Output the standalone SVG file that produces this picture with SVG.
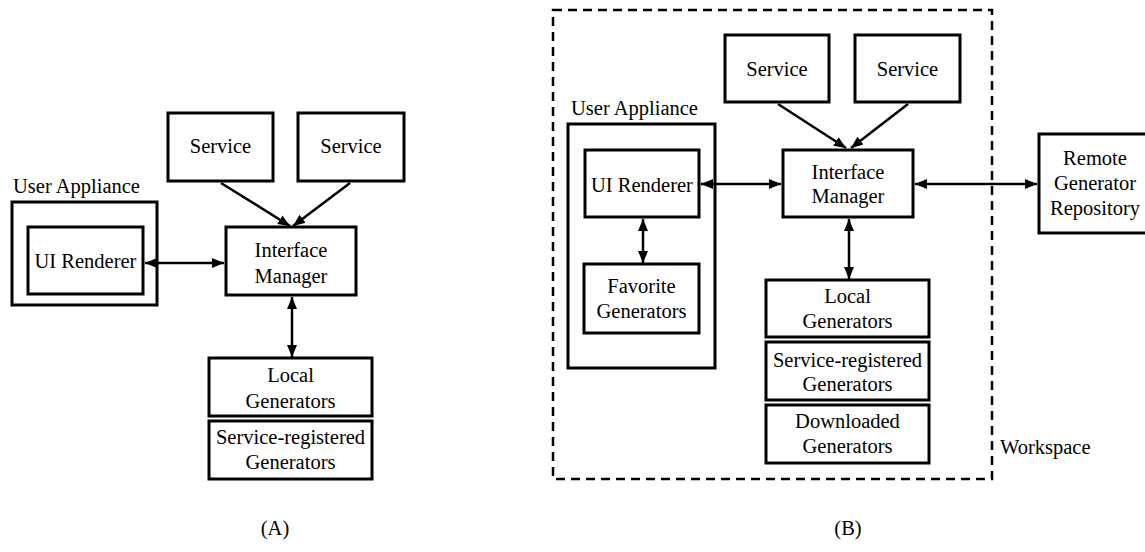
<svg xmlns="http://www.w3.org/2000/svg" width="1145" height="552" viewBox="0 0 1145 552">
<defs>
<style>
text{font-family:"Liberation Serif","DejaVu Serif","Noto Serif",serif;font-size:20.5px;fill:#000}
.c{text-anchor:middle}
.box{fill:#fff;stroke:#000;stroke-width:3}
.ln{stroke:#000;stroke-width:2.5;fill:none}
.dash{fill:none;stroke:#000;stroke-width:2.5;stroke-dasharray:9 6}
</style>
<marker id="ah" viewBox="0 0 12 10" refX="12" refY="5" markerWidth="12" markerHeight="10" markerUnits="userSpaceOnUse" orient="auto-start-reverse">
<path d="M0,0 L12,5 L0,10 z" fill="#000"/>
</marker>
</defs>
<rect width="1145" height="552" fill="#fff"/>
<g font-family="Liberation Serif, DejaVu Serif, serif">
<!-- Panel A -->
<g id="a-service1"><rect class="box" x="168" y="113" width="105" height="68"/><text class="c" x="220.5" y="153">Service</text></g>
<g id="a-service2"><rect class="box" x="298" y="113" width="106" height="68"/><text class="c" x="351" y="153">Service</text></g>
<g id="a-user-appliance"><text x="13" y="193">User Appliance</text><rect class="box" x="12" y="202" width="145" height="103"/></g>
<g id="a-ui-renderer"><rect class="box" x="28" y="227" width="115" height="67"/><text class="c" x="85.5" y="268">UI Renderer</text></g>
<g id="a-interface-manager"><rect class="box" x="226" y="227" width="130" height="68"/><text class="c" x="291" y="257">Interface</text><text class="c" x="291" y="283">Manager</text></g>
<g id="a-local"><rect class="box" x="209" y="358" width="163" height="58"/><text class="c" x="290.5" y="382">Local</text><text class="c" x="290.5" y="408">Generators</text></g>
<g id="a-service-registered"><rect class="box" x="209" y="421" width="163" height="58"/><text class="c" x="290.5" y="444">Service-registered</text><text class="c" x="290.5" y="469">Generators</text></g>
<text class="c" x="275" y="535">(A)</text>

<!-- Panel B -->
<g id="b-workspace"><rect class="dash" x="553" y="10" width="439" height="469"/><text x="1000" y="454">Workspace</text></g>
<g id="b-service1"><rect class="box" x="725" y="35" width="104" height="67"/><text class="c" x="777" y="76">Service</text></g>
<g id="b-service2"><rect class="box" x="855" y="35" width="105" height="67"/><text class="c" x="907.5" y="76">Service</text></g>
<g id="b-user-appliance"><text x="571" y="115">User Appliance</text><rect class="box" x="568" y="124" width="147" height="244"/></g>
<g id="b-ui-renderer"><rect class="box" x="585" y="150" width="114" height="67"/><text class="c" x="642" y="192">UI Renderer</text></g>
<g id="b-favorite"><rect class="box" x="584" y="264" width="115" height="69"/><text class="c" x="641.5" y="293">Favorite</text><text class="c" x="641.5" y="318">Generators</text></g>
<g id="b-interface-manager"><rect class="box" x="783" y="150" width="130" height="67"/><text class="c" x="848" y="179">Interface</text><text class="c" x="848" y="203">Manager</text></g>
<g id="b-remote"><rect class="box" x="1039" y="134" width="110" height="99"/><text class="c" x="1095" y="165">Remote</text><text class="c" x="1095" y="190">Generator</text><text class="c" x="1095" y="215">Repository</text></g>
<g id="b-local"><rect class="box" x="766" y="280" width="163" height="57"/><text class="c" x="847.5" y="303">Local</text><text class="c" x="847.5" y="328">Generators</text></g>
<g id="b-service-registered"><rect class="box" x="766" y="342" width="163" height="58"/><text class="c" x="847.5" y="367">Service-registered</text><text class="c" x="847.5" y="391">Generators</text></g>
<g id="b-downloaded"><rect class="box" x="766" y="405" width="163" height="58"/><text class="c" x="847.5" y="428">Downloaded</text><text class="c" x="847.5" y="453">Generators</text></g>
<text class="c" x="848" y="535">(B)</text>
</g>
<g id="connectors">
<line class="ln" x1="145" y1="263" x2="224" y2="263" marker-start="url(#ah)" marker-end="url(#ah)"/>
<line class="ln" x1="221" y1="183" x2="290" y2="226" marker-end="url(#ah)"/>
<line class="ln" x1="350" y1="183" x2="293" y2="226" marker-end="url(#ah)"/>
<line class="ln" x1="292" y1="297" x2="292" y2="357" marker-start="url(#ah)" marker-end="url(#ah)"/>
<line class="ln" x1="701" y1="184" x2="781" y2="184" marker-start="url(#ah)" marker-end="url(#ah)"/>
<line class="ln" x1="643" y1="219" x2="643" y2="263" marker-start="url(#ah)" marker-end="url(#ah)"/>
<line class="ln" x1="915" y1="184" x2="1037" y2="184" marker-start="url(#ah)" marker-end="url(#ah)"/>
<line class="ln" x1="778" y1="104" x2="846" y2="148" marker-end="url(#ah)"/>
<line class="ln" x1="908" y1="104" x2="851" y2="148" marker-end="url(#ah)"/>
<line class="ln" x1="849" y1="219" x2="849" y2="279" marker-start="url(#ah)" marker-end="url(#ah)"/>
</g>
</svg>
